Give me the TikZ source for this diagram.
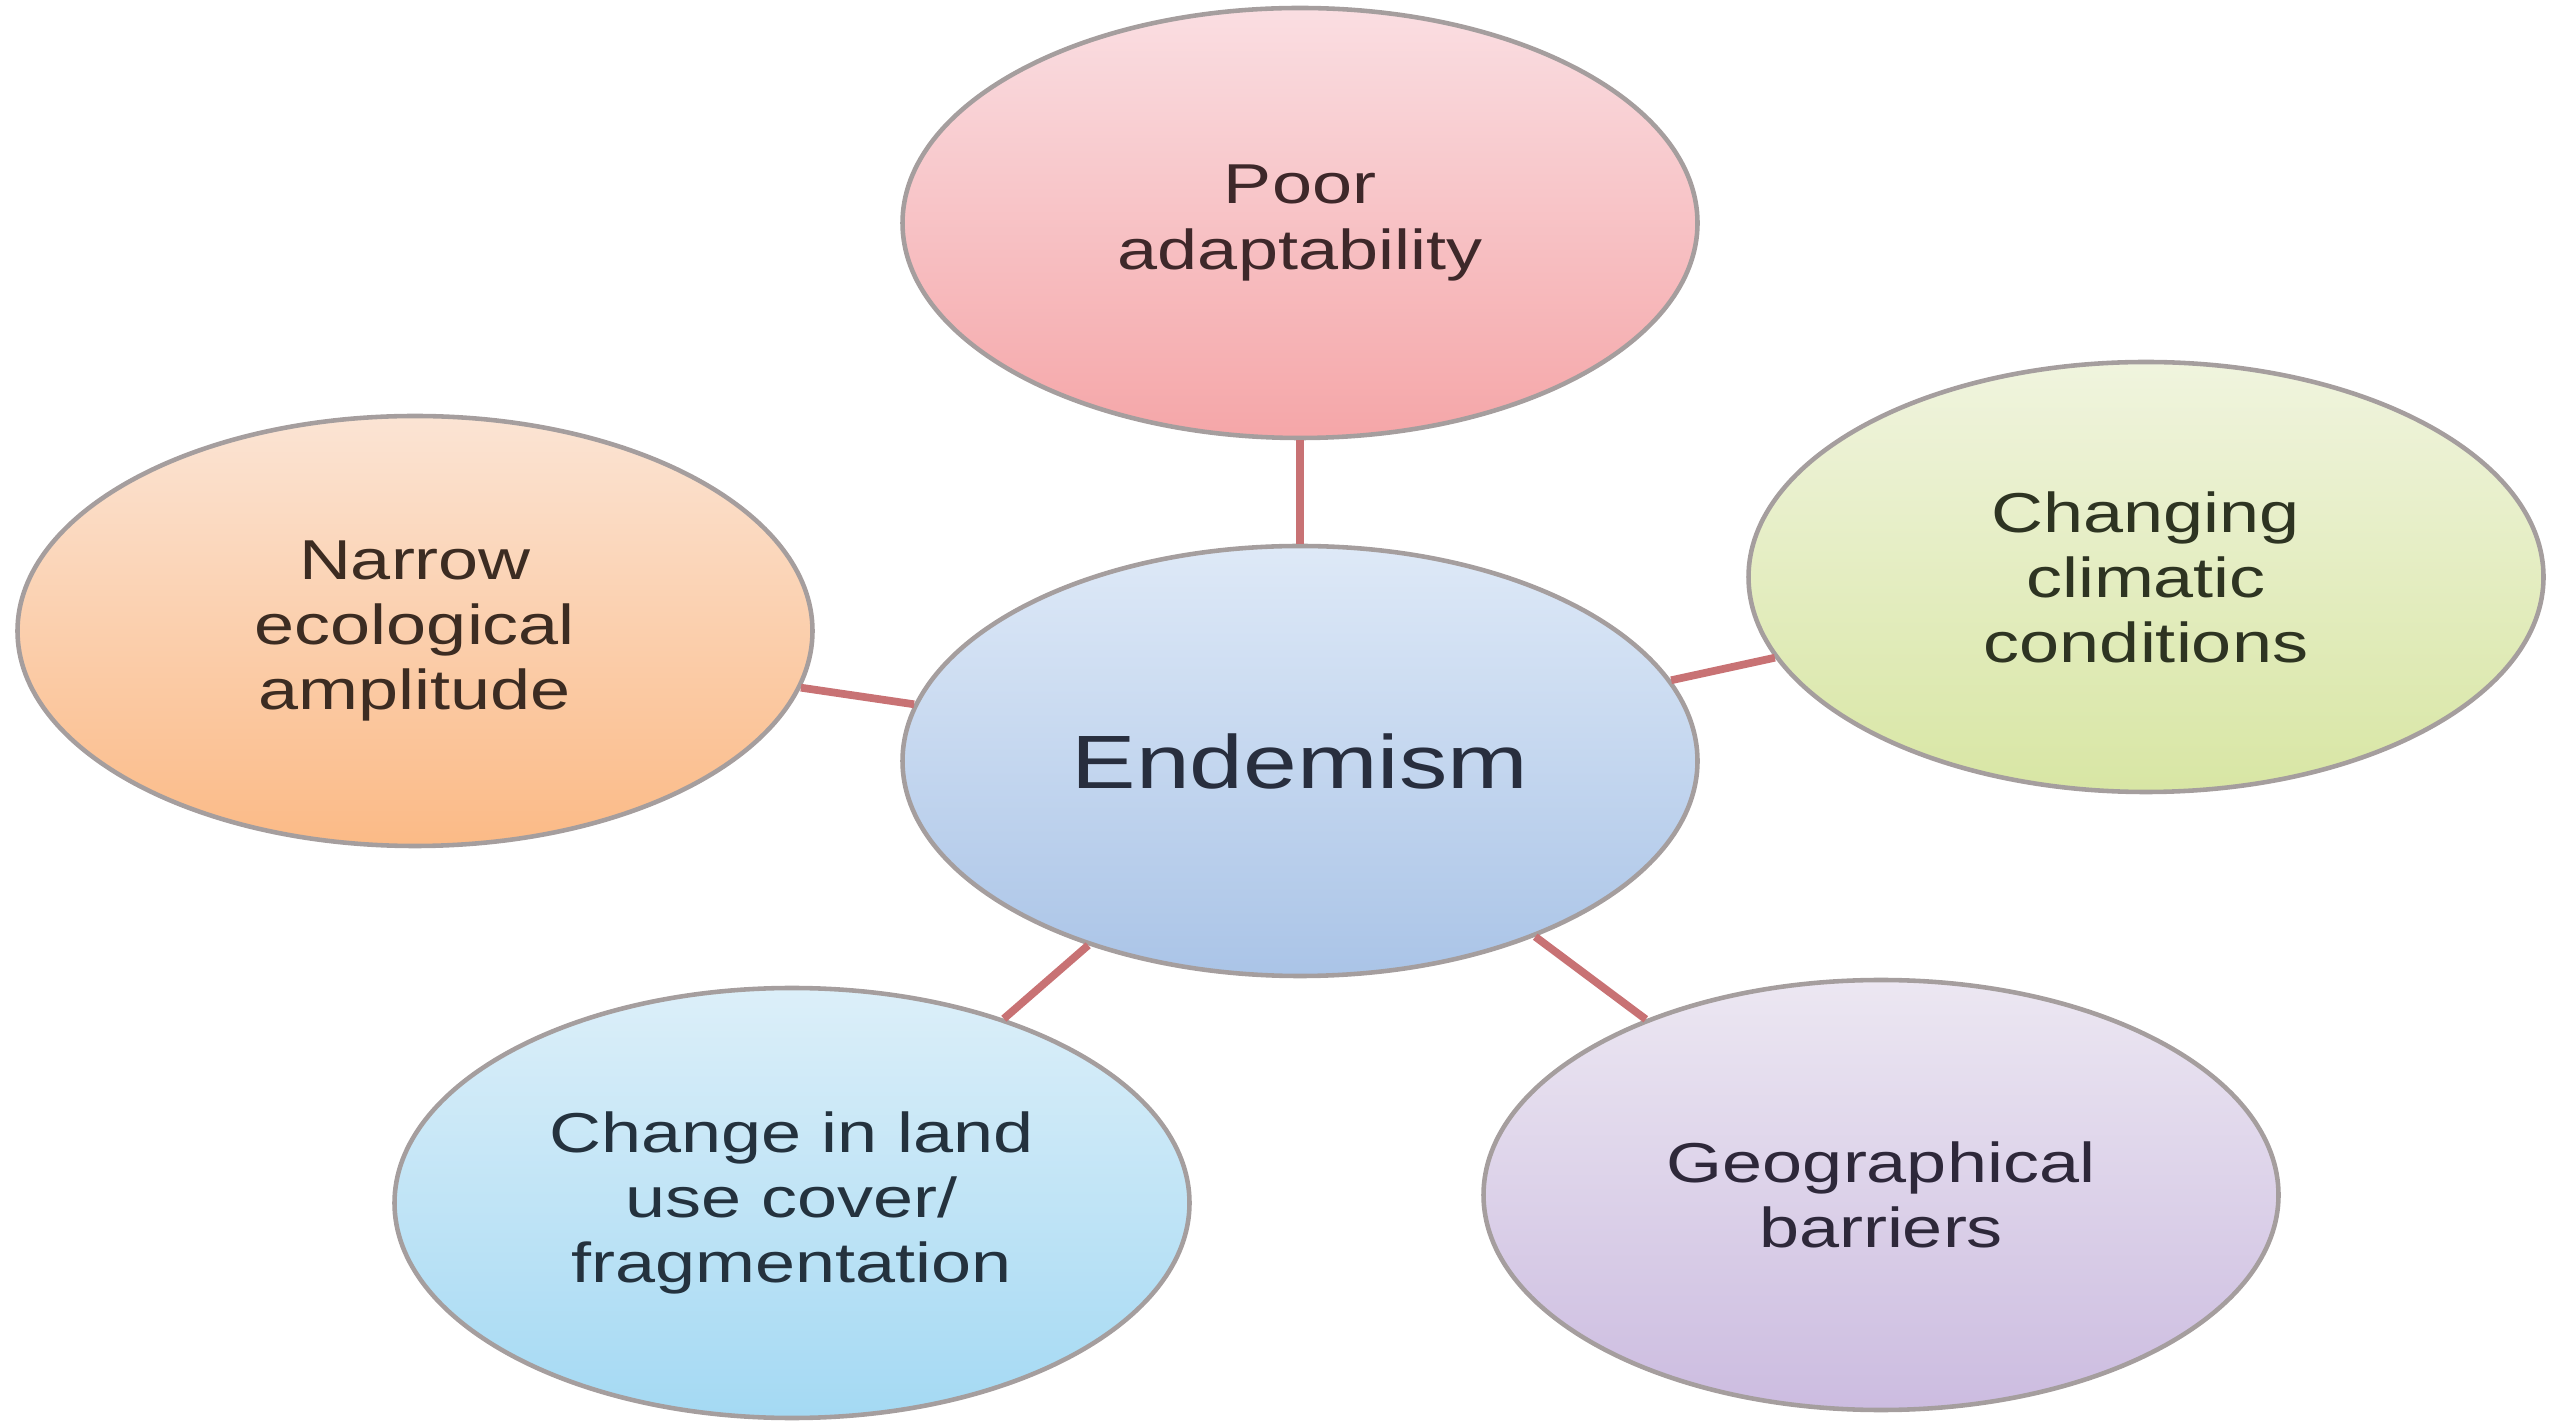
\documentclass[tikz,border=0pt]{standalone}
\usepackage{fontspec}
\setmainfont{Liberation Sans}[FakeStretch=1.28]
\usetikzlibrary{shapes.geometric}

\definecolor{linkred}{RGB}{200,114,116}
\definecolor{rimgray}{RGB}{165,158,158}

\tikzset{
  bubble/.style={ellipse, draw=rimgray, line width=1.3pt, inner sep=0pt,
    minimum width=7.95cm, minimum height=4.3cm, align=center,
    font=\fontsize{16}{18.5}\selectfont},
  link/.style={draw=linkred, line width=2.2pt},
}

\begin{document}
\begin{tikzpicture}
    \useasboundingbox (0,0) rectangle (25.49,14.20);
    % Bubbles %
    \node[bubble, top color={rgb,255:red,222;green,233;blue,247}, bottom color={rgb,255:red,170;green,196;blue,231},
      text={rgb,255:red,40;green,46;blue,62}, font=\fontsize{21.5}{24}\selectfont] (endemism) at (13.00,6.59) {Endemism};
    \node[bubble, top color={rgb,255:red,250;green,222;blue,226}, bottom color={rgb,255:red,245;green,166;blue,168},
      text={rgb,255:red,62;green,40;blue,42}] (poor) at (13.00,11.97) {Poor\\adaptability};
    \node[bubble, top color={rgb,255:red,251;green,228;blue,212}, bottom color={rgb,255:red,251;green,186;blue,134},
      text={rgb,255:red,60;green,44;blue,34}] (narrow) at (4.15,7.89) {Narrow\\ecological\\amplitude};
    \node[bubble, top color={rgb,255:red,240;green,244;blue,222}, bottom color={rgb,255:red,216;green,230;blue,164},
      text={rgb,255:red,46;green,52;blue,34}] (climate) at (21.46,8.43) {Changing\\climatic\\conditions};
    \node[bubble, top color={rgb,255:red,220;green,239;blue,249}, bottom color={rgb,255:red,164;green,217;blue,243},
      text={rgb,255:red,36;green,50;blue,62}] (landuse) at (7.92,2.17) {Change in land\\use cover/\\fragmentation};
    \node[bubble, top color={rgb,255:red,236;green,231;blue,242}, bottom color={rgb,255:red,204;green,188;blue,224},
      text={rgb,255:red,46;green,40;blue,58}] (barriers) at (18.81,2.25) {Geographical\\barriers};

    % Links %
    \draw[link] (endemism) -- (poor);
    \draw[link] (endemism) -- (narrow);
    \draw[link] (endemism) -- (climate);
    \draw[link] (endemism) -- (landuse);
    \draw[link] (endemism) -- (barriers);
\end{tikzpicture}
\end{document}
